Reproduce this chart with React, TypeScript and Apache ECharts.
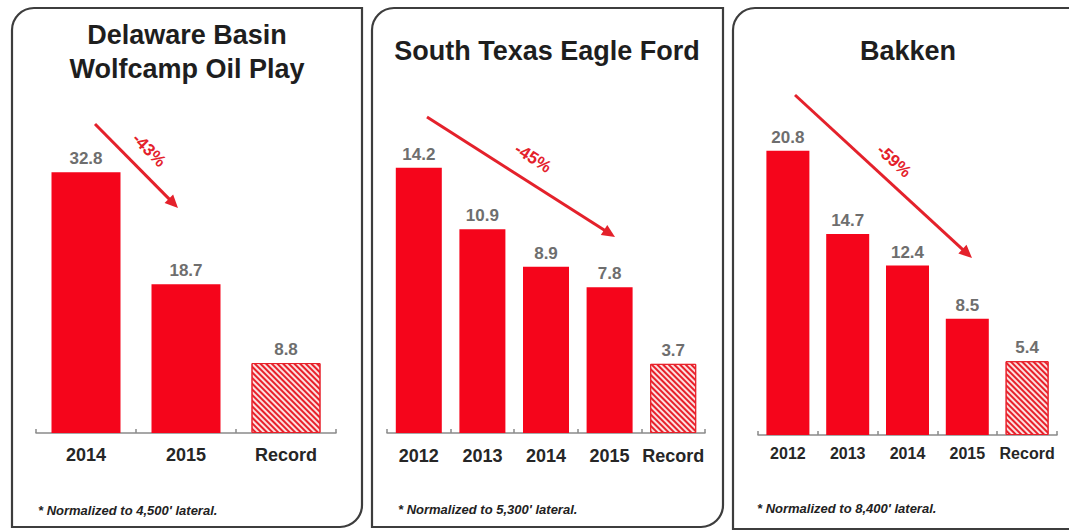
import React, { useEffect, useRef } from "react";
import * as echarts from "echarts";

const FONT = "'Liberation Sans', Arial, Helvetica, sans-serif";

// Panel 1: Delaware Basin Wolfcamp Oil Play
const categories1 = ["2014", "2015", "Record"];
const values1 = [32.8, 18.7, 8.8];
// Panel 2: South Texas Eagle Ford
const categories2 = ["2012", "2013", "2014", "2015", "Record"];
const values2 = [14.2, 10.9, 8.9, 7.8, 3.7];
// Panel 3: Bakken
const categories3 = ["2012", "2013", "2014", "2015", "Record"];
const values3 = [20.8, 14.7, 12.4, 8.5, 5.4];

const titles = [["Delaware Basin", "Wolfcamp Oil Play"], ["South Texas Eagle Ford"], ["Bakken"]];
const footnotes = [
  "* Normalized to 4,500' lateral.",
  "* Normalized to 5,300' lateral.",
  "* Normalized to 8,400' lateral.",
];
const changes = ["-43%", "-45%", "-59%"];

const RED = "#f5051b";
const ARROW_RED = "#e4212b";

export default function App() {
  const ref = useRef<HTMLDivElement>(null);

  useEffect(() => {
    if (!ref.current) return;
    const chart = echarts.init(ref.current, null, { renderer: "svg" });

    const panels = [
      { cats: categories1, vals: values1, max: 40, grid: { left: 36, right: 733, top: 115, bottom: 98 }, barWidth: 69, axisFont: 18, axisMargin: 13 },
      { cats: categories2, vals: values2, max: 16, grid: { left: 387, right: 364, top: 134, bottom: 98 }, barWidth: 46, axisFont: 18, axisMargin: 14 },
      { cats: categories3, vals: values3, max: 24, grid: { left: 758, right: 12, top: 107, bottom: 96 }, barWidth: 43, axisFont: 16, axisMargin: 10 },
    ];

    const hatch = {
      color: "#fbe0e0",
      borderColor: "#e8202a",
      borderWidth: 1,
      decal: {
        symbol: "rect",
        symbolSize: 1,
        dashArrayX: [1, 0],
        dashArrayY: [2, 1.6],
        rotation: Math.PI / 4,
        color: "#e8202a",
      },
    };

    // panel frames (rounded top-left and bottom-right corners)
    const frames = [
      { x: 12, y: 8, w: 350, h: 519 },
      { x: 372, y: 8, w: 351, h: 519 },
      { x: 733, y: 8, w: 360, h: 521 },
    ];

    const graphics: any[] = [];
    frames.forEach((f) => {
      graphics.push({
        type: "rect",
        shape: { x: f.x, y: f.y, width: f.w, height: f.h, r: [22, 0, 22, 0] },
        style: { fill: "none", stroke: "#3d3d3d", lineWidth: 2.2 },
        silent: true,
        z: 10,
      });
    });

    // titles
    const titleCenters = [187, 547, 908];
    titles.forEach((lines, i) => {
      const ys = lines.length === 2 ? [35, 69] : [51];
      lines.forEach((t, j) => {
        graphics.push({
          type: "text",
          x: titleCenters[i],
          y: ys[j],
          style: {
            text: t,
            font: `bold 27px ${FONT}`,
            fill: "#1e1e1e",
            textAlign: "center",
            textVerticalAlign: "middle",
            align: "center",
            verticalAlign: "middle",
          },
          z: 20,
        });
      });
    });

    // footnotes
    const footPos = [
      [38, 510],
      [398, 509],
      [757, 508],
    ];
    footnotes.forEach((t, i) => {
      graphics.push({
        type: "text",
        x: footPos[i][0],
        y: footPos[i][1],
        style: {
          text: t,
          font: `italic bold 13px ${FONT}`,
          fill: "#222",
          textAlign: "left",
          textVerticalAlign: "middle",
          align: "left",
          verticalAlign: "middle",
        },
        z: 20,
      });
    });

    // annotation arrows with change labels
    const arrows = [
      { from: [95, 124], to: [178, 208], label: [149, 150] },
      { from: [427, 117], to: [615, 237], label: [533, 158] },
      { from: [795, 95], to: [972, 258], label: [894, 161] },
    ];
    arrows.forEach((a, i) => {
      const dx = a.to[0] - a.from[0];
      const dy = a.to[1] - a.from[1];
      const len = Math.sqrt(dx * dx + dy * dy);
      const ux = dx / len;
      const uy = dy / len;
      const headLen = 13;
      const headHalf = 6;
      const bx = a.to[0] - ux * headLen;
      const by = a.to[1] - uy * headLen;
      graphics.push({
        type: "line",
        shape: { x1: a.from[0], y1: a.from[1], x2: bx + ux * 2, y2: by + uy * 2 },
        style: { stroke: ARROW_RED, lineWidth: 3 },
        z: 15,
      });
      graphics.push({
        type: "polygon",
        shape: {
          points: [
            [a.to[0], a.to[1]],
            [bx - uy * headHalf, by + ux * headHalf],
            [bx + uy * headHalf, by - ux * headHalf],
          ],
        },
        style: { fill: ARROW_RED },
        z: 15,
      });
      graphics.push({
        type: "text",
        x: a.label[0],
        y: a.label[1],
        rotation: -Math.atan2(dy, dx),
        style: {
          text: changes[i],
          font: `bold 17px ${FONT}`,
          fill: ARROW_RED,
          textAlign: "center",
          textVerticalAlign: "middle",
          align: "center",
          verticalAlign: "middle",
        },
        z: 15,
      });
    });

    chart.setOption({
      animation: false,
      backgroundColor: "#ffffff",
      grid: panels.map((p) => ({ ...p.grid, containLabel: false })),
      xAxis: panels.map((p, i) => ({
        type: "category",
        gridIndex: i,
        data: p.cats,
        boundaryGap: true,
        axisLine: { show: true, lineStyle: { color: "#8a8a8a", width: 1.5 } },
        axisTick: { show: true, inside: true, length: 4, lineStyle: { color: "#8a8a8a", width: 1.5 } },
        axisLabel: {
          color: "#262626",
          fontWeight: "bold",
          fontSize: p.axisFont,
          fontFamily: FONT,
          margin: p.axisMargin,
          interval: 0,
        },
        splitLine: { show: false },
      })),
      yAxis: panels.map((p, i) => ({
        type: "value",
        gridIndex: i,
        min: 0,
        max: p.max,
        show: false,
        splitLine: { show: false },
      })),
      series: panels.map((p, i) => ({
        type: "bar",
        xAxisIndex: i,
        yAxisIndex: i,
        barWidth: p.barWidth,
        data: p.vals.map((v, k) =>
          p.cats[k] === "Record" ? { value: v, itemStyle: hatch } : { value: v, itemStyle: { color: RED } }
        ),
        label: {
          show: true,
          position: "top",
          distance: 5,
          color: "#6e6e6e",
          fontWeight: "bold",
          fontSize: 17,
          fontFamily: FONT,
          formatter: (d: any) => Number(d.value).toFixed(1),
        },
      })),
      graphic: graphics,
    });

    return () => chart.dispose();
  }, []);

  return (
    <div
      ref={ref}
      style={{ position: "fixed", left: 0, top: 0, width: 1069, height: 531, background: "#fff" }}
    />
  );
}
